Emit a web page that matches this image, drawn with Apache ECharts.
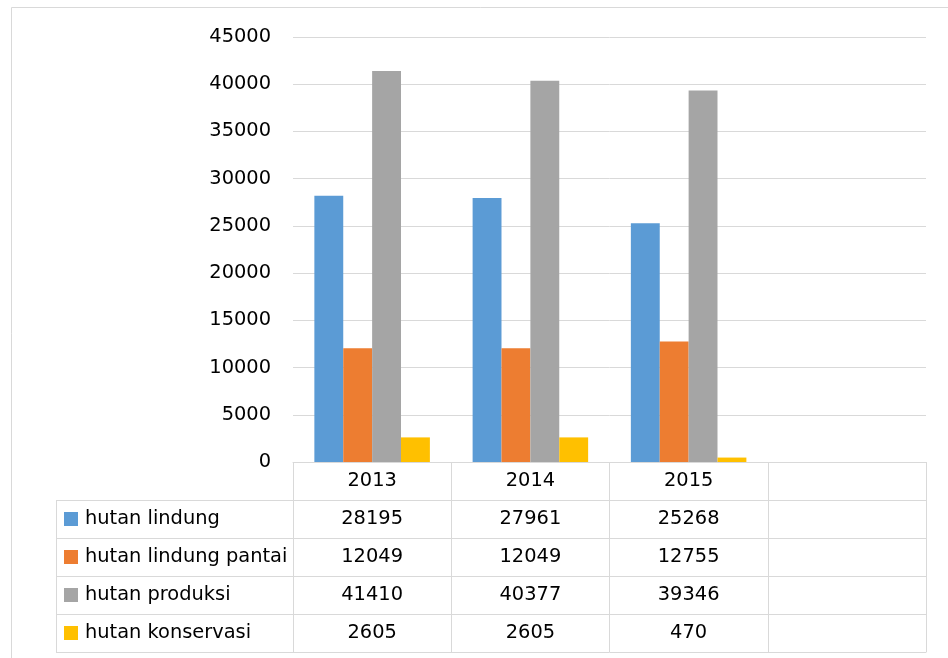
<!DOCTYPE html>
<html>
<head>
<meta charset="utf-8">
<script src="https://cdn.jsdelivr.net/npm/echarts@6/dist/echarts.min.js"></script>
<style>
html,body{margin:0;padding:0;background:#fff;}
#main{width:948px;height:658px;}
</style>
</head>
<body>
<div id="main"></div>
<script>
const categories = ['2013', '2014', '2015', ''];
const seriesNames = ['hutan lindung', 'hutan lindung pantai', 'hutan produksi', 'hutan konservasi'];
const hutanLindung = [28195, 27961, 25268];
const hutanLindungPantai = [12049, 12049, 12755];
const hutanProduksi = [41410, 40377, 39346];
const hutanKonservasi = [2605, 2605, 470];
const colors = ['#5B9BD5', '#ED7D31', '#A5A5A5', '#FFC000'];
const yTicks = [0, 5000, 10000, 15000, 20000, 25000, 30000, 35000, 40000, 45000];

const seriesValues = [hutanLindung, hutanLindungPantai, hutanProduksi, hutanKonservasi];

const FONT = 'DejaVu Sans';
const FS = 19.4;
const LINE = '#D9D9D9';
const ROW_H = 38;
const GRID_LEFT = 293, GRID_RIGHT = 22, GRID_TOP = 37, GRID_BOTTOM = 196;
const AXIS_Y = 658 - GRID_BOTTOM;
const TABLE_LEFT = 56;

const chart = echarts.init(document.getElementById('main'), null, {renderer: 'canvas'});

const xAxes = [];
xAxes.push({
  type: 'category', data: categories, position: 'bottom', gridIndex: 0,
  axisLine: {show: true, lineStyle: {color: LINE, width: 1}},
  axisTick: {show: true, length: ROW_H, interval: 0, lineStyle: {color: LINE, width: 1}},
  axisLabel: {show: true, interval: 0, margin: ROW_H / 2, verticalAlign: 'middle',
    fontFamily: FONT, fontSize: FS, color: '#000'},
  splitLine: {show: false}
});
seriesValues.forEach((vals, k) => {
  xAxes.push({
    type: 'category', data: categories, position: 'bottom', offset: ROW_H * (k + 1),
    axisLine: {show: true, lineStyle: {color: LINE, width: 1}},
    axisTick: {show: true, length: ROW_H, interval: 0, lineStyle: {color: LINE, width: 1}},
    axisLabel: {show: true, interval: 0, margin: ROW_H / 2, verticalAlign: 'middle',
      fontFamily: FONT, fontSize: FS, color: '#000',
      formatter: (v, i) => (vals[i] !== undefined ? String(vals[i]) : '')},
    splitLine: {show: false}
  });
});
xAxes.push({
  type: 'category', data: categories, position: 'bottom', offset: ROW_H * 5,
  axisLine: {show: true, lineStyle: {color: LINE, width: 1}},
  axisTick: {show: false}, axisLabel: {show: false}, splitLine: {show: false}
});

const graphics = [];
graphics.push({type: 'rect', shape: {x: 11.5, y: 7.5, width: 1200, height: 1200},
  style: {fill: 'none', stroke: LINE, lineWidth: 1}, silent: true});
graphics.push({type: 'line', shape: {x1: TABLE_LEFT + 0.5, y1: AXIS_Y + ROW_H, x2: TABLE_LEFT + 0.5, y2: AXIS_Y + ROW_H * 5},
  style: {stroke: LINE, lineWidth: 1}});
for (let r = 1; r <= 5; r++) {
  graphics.push({type: 'line', shape: {x1: TABLE_LEFT, y1: AXIS_Y + ROW_H * r + 0.5, x2: GRID_LEFT, y2: AXIS_Y + ROW_H * r + 0.5},
    style: {stroke: LINE, lineWidth: 1}});
}
seriesNames.forEach((name, k) => {
  const cy = AXIS_Y + ROW_H * (k + 1) + ROW_H / 2;
  graphics.push({type: 'rect', shape: {x: 64, y: cy - 7, width: 14, height: 14},
    style: {fill: colors[k]}});
  graphics.push({type: 'text', x: 85, y: cy,
    style: {text: name, fontFamily: FONT, fontSize: FS, fill: '#000', verticalAlign: 'middle', align: 'left'}});
});

const option = {
  animation: false,
  backgroundColor: '#fff',
  grid: {left: GRID_LEFT, right: GRID_RIGHT, top: GRID_TOP, bottom: GRID_BOTTOM, containLabel: false},
  xAxis: xAxes,
  yAxis: {
    type: 'value', min: yTicks[0], max: yTicks[yTicks.length - 1], interval: yTicks[1] - yTicks[0],
    axisLine: {show: false}, axisTick: {show: false},
    axisLabel: {margin: 22, fontFamily: FONT, fontSize: FS, color: '#000', formatter: v => String(v)},
    splitLine: {show: true, lineStyle: {color: LINE, width: 1}}
  },
  series: seriesNames.map((name, k) => ({
    name: name, type: 'bar', xAxisIndex: 0, data: seriesValues[k],
    barGap: '0%', barCategoryGap: '27%',
    itemStyle: {color: colors[k]}
  })),
  graphic: graphics
};
chart.setOption(option);
</script>
</body>
</html>
